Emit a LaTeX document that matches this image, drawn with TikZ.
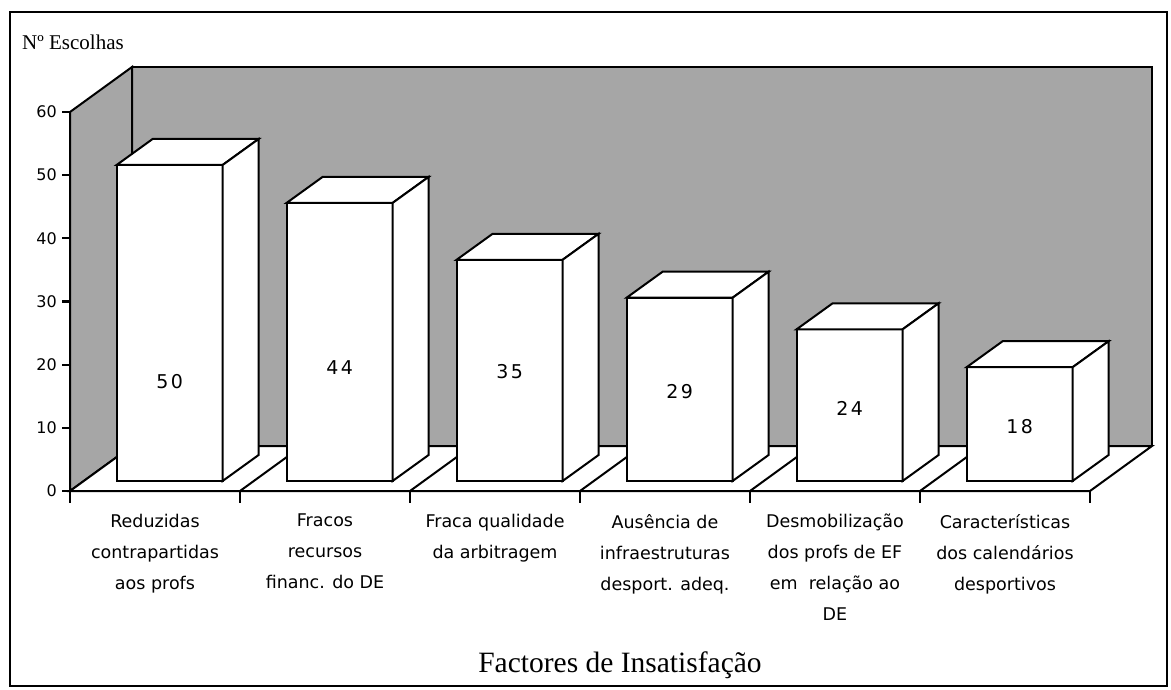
\documentclass[tikz,border=0pt]{standalone}
\usepackage{fontspec}
\setmainfont{Liberation Serif}
\newfontfamily\genevafont{DejaVu Sans}
\begin{document}
\begin{tikzpicture}[x=1pt,y=-1pt,line join=miter,
    wall/.style={fill=black!35,draw=black,line width=2pt},
    barface/.style={fill=white,draw=black,line width=2pt},
    axisline/.style={draw=black,line width=2.2pt},
    ylabel/.style={font=\genevafont\fontsize{16}{18}\selectfont,anchor=east,inner sep=0pt},
    vallabel/.style={font=\genevafont\fontsize{19}{22}\selectfont,inner sep=0pt},
    catlabel/.style={font=\genevafont\fontsize{17.5}{31}\selectfont,align=center,anchor=north,inner sep=0pt}]
    \useasboundingbox (0,0) rectangle (1171,690);
    \draw[line width=2pt] (10,12) rectangle (1167,686);
    \node[font=\fontsize{21}{25}\selectfont,anchor=base west,inner sep=0pt] (ytitle) at (22,50) {Nº Escolhas};
    % walls and floor
    \draw[wall] (132,446) -- (132,67) -- (1152,67) -- (1152,446);
    \draw[wall] (70,491) -- (70,112) -- (132,67) -- (132,446) -- cycle;
    \draw[barface] (70,491) -- (1090,491) -- (1152,446) -- (132,446) -- cycle;
    \draw[axisline] (70,491) -- (1090,491);
    \foreach \k in {1,...,5}
        \draw[barface] ({70+170*\k},491) -- ++(62,-45);
    \foreach \k in {0,...,6}
        \draw[axisline] ({70+170*\k},491) -- ++(0,12);
    \foreach \v in {0,10,...,60} {
        \draw[axisline] (62,{491-6.32*\v}) -- (70,{491-6.32*\v});
        \node[ylabel] (y\v) at (57,{491-6.32*\v}) {\v};
    }
    % bars
    \foreach \v/\ly/\txt [count=\k from 0] in {50/382/5\kern2.5pt 0,44/368/4\kern2.5pt 4,35/372/3\kern2.5pt 5,29/392/2\kern2.5pt 9,24/408/2\kern2.5pt 4,18/427/1\kern2.5pt 8} {
        \pgfmathsetmacro\xl{116.6+170*\k}
        \pgfmathsetmacro\xr{\xl+106}
        \pgfmathsetmacro\yt{481-6.32*\v}
        \draw[barface] (\xl,481) rectangle (\xr,\yt);
        \draw[barface] (\xl,\yt) -- ++(36,-26) -- ++(106,0) -- (\xr,\yt) -- cycle;
        \draw[barface] (\xr,481) -- ++(36,-26) -- ++(0,{-6.32*\v}) -- (\xr,\yt) -- cycle;
        \node[vallabel] (val\k) at ({\xl+53},\ly) {\txt};
    }
    \foreach \txt [count=\k from 0] in {{Reduzidas\\contrapartidas\\aos profs},{Fracos\\recursos\\financ. do DE},{Fraca qualidade\\da arbitragem},{Ausência de\\infraestruturas\\desport. adeq.},{Desmobilização\\dos profs de EF\\em\ \ relação ao\\DE},{Características\\dos\ calendários\\desportivos}}
        \node[catlabel] (cat\k) at ({155+170*\k},514) {\txt};
    \node[font=\fontsize{29.5}{34}\selectfont] (xtitle) at (620,665) {Factores de Insatisfação};
\end{tikzpicture}
\end{document}
